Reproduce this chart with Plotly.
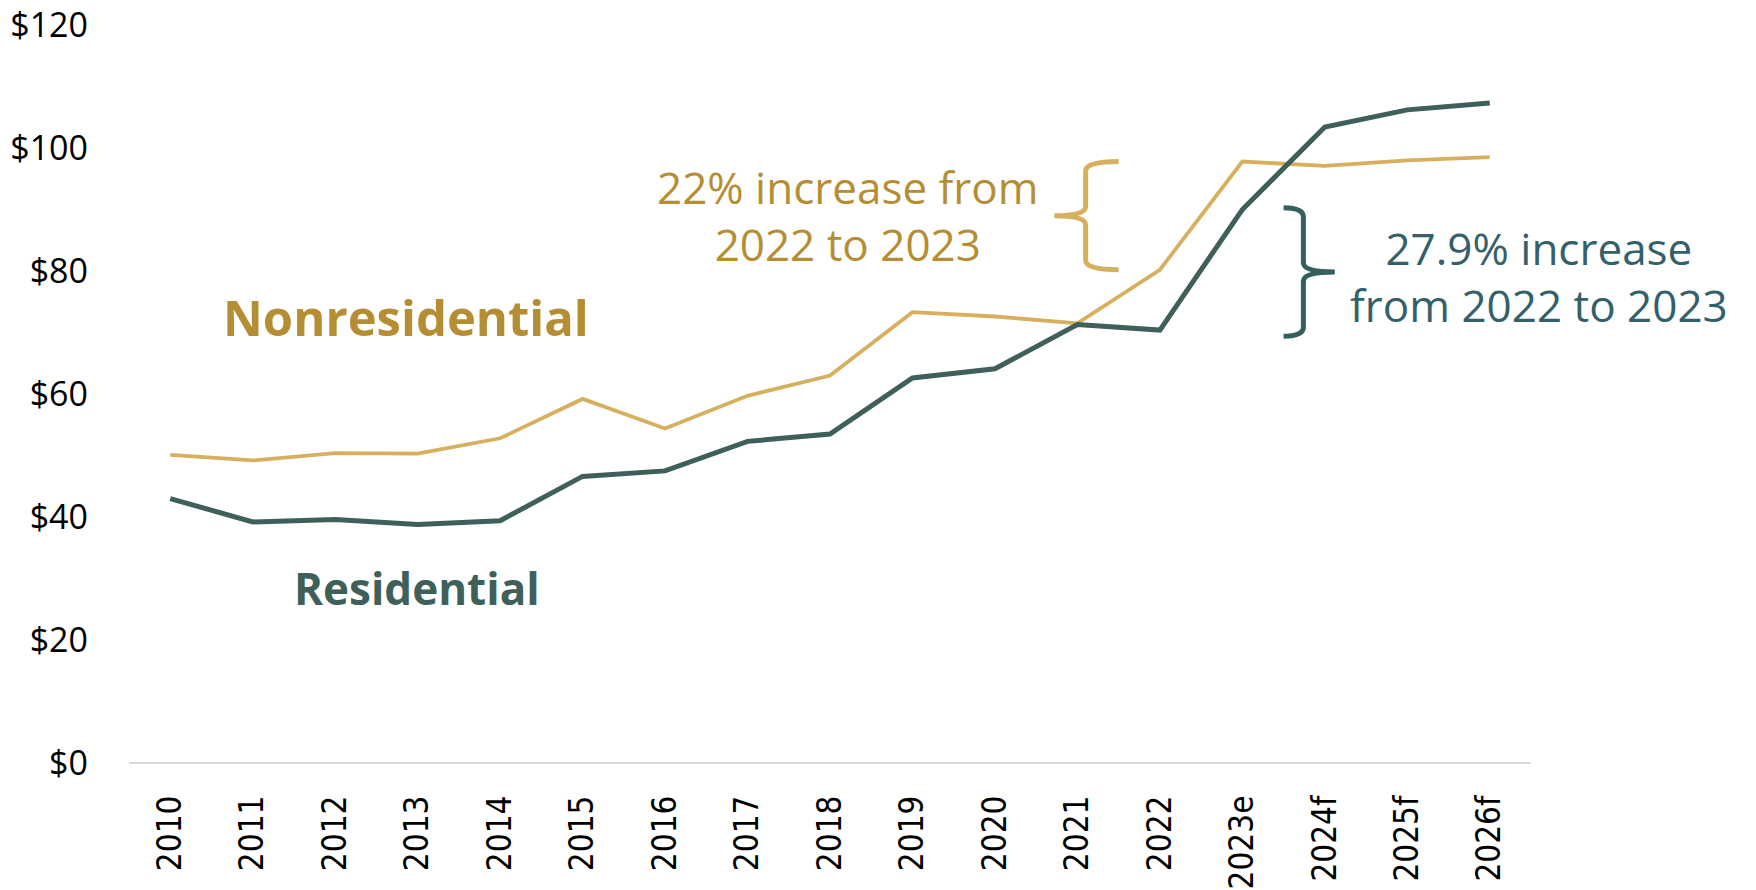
import plotly.graph_objects as go

years = ["2010", "2011", "2012", "2013", "2014", "2015", "2016", "2017", "2018",
         "2019", "2020", "2021", "2022", "2023e", "2024f", "2025f", "2026f"]
nonresidential = [50.1, 49.2, 50.4, 50.3, 52.8, 59.2, 54.4, 59.7, 63.0,
                  73.3, 72.6, 71.5, 80.2, 97.8, 97.1, 98.0, 98.5]
residential = [43.0, 39.2, 39.6, 38.8, 39.4, 46.6, 47.5, 52.3, 53.5,
               62.6, 64.1, 71.3, 70.4, 90.0, 103.4, 106.2, 107.3]
y_ticks = [0, 20, 40, 60, 80, 100, 120]
y_tick_labels = ["$0", "$20", "$40", "$60", "$80", "$100", "$120"]

GOLD_LINE = "#D6B05E"
GOLD_TEXT = "#B58E34"
TEAL_LINE = "#3E5F5A"
TEAL_TEXT = "#33606A"
TEAL_BRACE = "#33605F"

n = len(years)


def cat_paper(idx):
    return (idx + 0.5) / n


fig = go.Figure()
fig.add_trace(go.Scatter(x=years, y=nonresidential, mode="lines",
                         line=dict(color=GOLD_LINE, width=3.8), name="Nonresidential"))
fig.add_trace(go.Scatter(x=years, y=residential, mode="lines",
                         line=dict(color=TEAL_LINE, width=5), name="Residential"))


def brace_path(x_end, x_stem, x_tip, y_lo, y_hi, r):
    ym = (y_lo + y_hi) / 2
    return (f"M {x_end},{y_hi} Q {x_stem},{y_hi} {x_stem},{y_hi - r} "
            f"L {x_stem},{ym + r} Q {x_stem},{ym} {x_tip},{ym} "
            f"Q {x_stem},{ym} {x_stem},{ym - r} "
            f"L {x_stem},{y_lo + r} Q {x_stem},{y_lo} {x_end},{y_lo}")


i22 = years.index("2022")
i23 = years.index("2023e")

# gold brace (opening left), spanning 2022 -> 2023 nonresidential
gold_path = brace_path(cat_paper(11.5), cat_paper(11.1), cat_paper(10.72),
                       nonresidential[i22], nonresidential[i23], 1.5)
# teal brace (opening right), spanning 2022 -> 2023 residential
teal_path = brace_path(cat_paper(13.5), cat_paper(13.74), cat_paper(14.12),
                       residential[i22] - 1.0, residential[i23] + 0.3, 1.5)

fig.update_layout(
    shapes=[
        dict(type="path", path=gold_path, xref="paper", yref="y",
             line=dict(color=GOLD_LINE, width=5)),
        dict(type="path", path=teal_path, xref="paper", yref="y",
             line=dict(color=TEAL_BRACE, width=5)),
    ]
)

fig.add_annotation(x=cat_paper(2.86), xref="paper", y=72.6, yref="y",
                   text="<b>Nonresidential</b>", showarrow=False, xanchor="center",
                   font=dict(family="Open Sans", size=49, color=GOLD_TEXT))
fig.add_annotation(x=cat_paper(2.99), xref="paper", y=28.4, yref="y",
                   text="<b>Residential</b>", showarrow=False, xanchor="center",
                   font=dict(family="Open Sans", size=44, color=TEAL_LINE))
fig.add_annotation(x=cat_paper(8.22), xref="paper", y=89.0, yref="y",
                   text="22% increase from<br>2022 to 2023", showarrow=False,
                   xanchor="center",
                   font=dict(family="Open Sans", size=44, color=GOLD_TEXT))
fig.add_annotation(x=cat_paper(16.6), xref="paper", y=79.1, yref="y",
                   text="27.9% increase<br>from 2022 to 2023", showarrow=False,
                   xanchor="center",
                   font=dict(family="Open Sans", size=44, color=TEAL_TEXT))

fig.update_layout(
    width=1756, height=890,
    margin=dict(l=129, r=225, t=25, b=127, autoexpand=False),
    paper_bgcolor="white", plot_bgcolor="white",
    showlegend=False,
    xaxis=dict(type="category", range=[-0.5, n - 0.5], tickangle=-90,
               showgrid=False, showline=False, zeroline=False, ticks="",
               ticklabelstandoff=25, automargin=False,
               tickfont=dict(family="DejaVu Sans Condensed, Roboto", size=33,
                             color="black")),
    yaxis=dict(range=[0, 120], tickvals=y_ticks, ticktext=y_tick_labels,
               showgrid=False, showline=False, zeroline=True, zerolinecolor="#D9D9D9",
               zerolinewidth=2, ticks="", ticklabelstandoff=40, automargin=False,
               tickfont=dict(family="Open Sans", size=34, color="black")),
)

fig.write_html("out.html")
